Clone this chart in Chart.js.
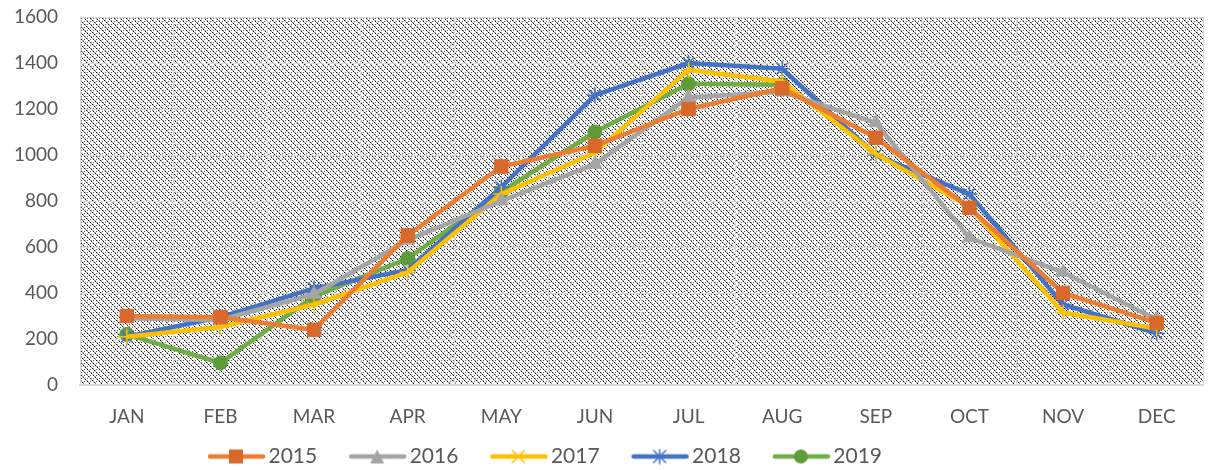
<!DOCTYPE html>
<html>
<head>
<meta charset="utf-8">
<script src="https://cdn.jsdelivr.net/npm/chart.js@4"></script>
<style>
  html, body { margin: 0; padding: 0; background: #fff; }
  #wrap { width: 1214px; height: 470px; }
</style>
</head>
<body>
<div id="wrap"><canvas id="chart" width="1214" height="470"></canvas></div>
<script>
// donnees
const months = ['JAN', 'FEB', 'MAR', 'APR', 'MAY', 'JUN', 'JUL', 'AUG', 'SEP', 'OCT', 'NOV', 'DEC'];
const y2015 = [300, 295, 240, 650, 950, 1040, 1200, 1290, 1075, 770, 400, 270];
const y2016 = [290, 283, 395, 630, 800, 960, 1250, 1275, 1140, 640, 490, 285];
const y2017 = [210, 252, 350, 490, 830, 1010, 1370, 1320, 1005, 775, 315, 245];
const y2018 = [210, 295, 420, 500, 860, 1260, 1400, 1375, 1000, 830, 350, 225];
const y2019 = [220, 96, 385, 550, 840, 1100, 1310, 1305, null, null, null, null];
const yTicks = [0, 200, 400, 600, 800, 1000, 1200, 1400, 1600];

const FONT = 'Lato, Carlito, "Liberation Sans", sans-serif';

// motif hachuré du fond
function makeHatch() {
    const n = 12;
    const c = document.createElement('canvas');
    c.width = n; c.height = n;
    const g = c.getContext('2d');
    const img = g.createImageData(n, n);
    for (let y = 0; y < n; y++) {
        for (let x = 0; x < n; x++) {
            let v = 255;
            const d = ((x - y) % 6 + 6) % 6;
            if (d === 0) v = ((x + y) % 4 === 0) ? 10 : 150;
            else if (d === 1 && y % 2 === 0) v = 185;
            else if (d === 3 && (x + y) % 6 === 3) v = 90;
            const i = (y * n + x) * 4;
            img.data[i] = v; img.data[i + 1] = v; img.data[i + 2] = v; img.data[i + 3] = 255;
        }
    }
    g.putImageData(img, 0, 0);
    return c;
}

const hatchBg = {
    id: 'hatchBg',
    beforeDraw(chart) {
        const a = chart.chartArea;
        const ctx = chart.ctx;
        ctx.save();
        ctx.fillStyle = ctx.createPattern(makeHatch(), 'repeat');
        ctx.fillRect(a.left, a.top, a.right - a.left, a.bottom - a.top);
        ctx.restore();
    }
};

// decale la legende comme dans l'original
const legendShift = {
    id: 'legendShift',
    afterLayout(chart) {
        chart.legend.left -= 75;
        chart.legend.right -= 75;
        chart.legend.top += 7;
        chart.legend.bottom += 7;
    }
};

// icone de legende : trait + marqueur
function legendIcon(lineColor, markerColor, style) {
    const c = document.createElement('canvas');
    c.width = 100; c.height = 16;
    const g = c.getContext('2d');
    g.strokeStyle = lineColor;
    g.lineWidth = 4.5;
    g.lineCap = 'round';
    g.beginPath(); g.moveTo(42, 8); g.lineTo(95, 8); g.stroke();
    g.fillStyle = markerColor;
    g.strokeStyle = markerColor;
    g.lineWidth = 1.5;
    const cx = 68;
    if (style === 'rect') g.fillRect(cx - 7, 1, 14, 14);
    else if (style === 'triangle') {
        g.beginPath(); g.moveTo(cx, 1); g.lineTo(cx + 7, 15); g.lineTo(cx - 7, 15); g.closePath(); g.fill();
    } else if (style === 'cross') {
        g.beginPath(); g.moveTo(cx - 6, 2); g.lineTo(cx + 6, 14); g.moveTo(cx + 6, 2); g.lineTo(cx - 6, 14); g.stroke();
    } else if (style === 'star') {
        g.beginPath(); g.moveTo(cx - 6, 2); g.lineTo(cx + 6, 14); g.moveTo(cx + 6, 2); g.lineTo(cx - 6, 14);
        g.moveTo(cx, 1); g.lineTo(cx, 15); g.stroke();
    } else {
        g.beginPath(); g.arc(cx, 8, 7, 0, Math.PI * 2); g.fill();
    }
    return c;
}

function serie(label, data, lineColor, markerColor, style, radius) {
    return {
        label: label,
        data: data,
        borderColor: lineColor,
        backgroundColor: markerColor,
        pointBackgroundColor: markerColor,
        pointBorderColor: markerColor,
        pointBorderWidth: (style === 'cross' || style === 'star') ? 1.5 : 1,
        pointStyle: style,
        pointRadius: radius,
        borderWidth: 4.5,
        tension: 0,
        spanGaps: false,
        icon: legendIcon(lineColor, markerColor, style)
    };
}

const ctx = document.getElementById('chart');
const chart = new Chart(ctx, {
    type: 'line',
    data: {
        labels: months,
        datasets: [
            serie('2015', y2015, '#ED7D31', '#D9692B', 'rect', 9.5),
            serie('2016', y2016, '#A5A5A5', '#A5A5A5', 'triangle', 8),
            serie('2017', y2017, '#FFC000', '#FFC000', 'cross', 8),
            serie('2018', y2018, '#4472C4', '#4472C4', 'star', 8),
            serie('2019', y2019, '#70AD47', '#5E9C38', 'circle', 7)
        ]
    },
    options: {
        responsive: false,
        animation: false,
        layout: { padding: { left: 0, right: 4, top: 17, bottom: 0 } },
        plugins: {
            tooltip: { enabled: false },
            legend: {
                position: 'bottom',
                labels: {
                    usePointStyle: true,
                    pointStyleWidth: 80,
                    boxHeight: 16,
                    padding: 2,
                    color: '#595959',
                    font: { family: FONT, size: 21 },
                    generateLabels(chart) {
                        return chart.data.datasets.map((ds, i) => ({
                            text: ds.label,
                            pointStyle: ds.icon,
                            fillStyle: ds.borderColor,
                            strokeStyle: ds.borderColor,
                            lineWidth: 0,
                            fontColor: '#595959',
                            datasetIndex: i,
                            hidden: false
                        }));
                    }
                }
            }
        },
        scales: {
            x: {
                offset: true,
                grid: { offset: true, color: '#D9D9D9', lineWidth: 1, drawTicks: false },
                border: { color: '#D9D9D9', width: 2 },
                ticks: {
                    padding: 20,
                    color: '#595959',
                    font: { family: FONT, size: 19 }
                },
                afterFit(scale) {
                    scale.height = 52;
                    scale.paddingLeft = 0;
                    scale.paddingRight = 0;
                }
            },
            y: {
                min: 0,
                max: 1600,
                afterBuildTicks(scale) { scale.ticks = yTicks.map(v => ({ value: v })); },
                grid: { color: '#D9D9D9', lineWidth: 1, drawTicks: false },
                border: { color: '#D9D9D9', width: 1 },
                ticks: {
                    padding: 22,
                    color: '#595959',
                    font: { family: FONT, size: 19 },
                    callback: (v) => String(v)
                },
                afterFit(scale) {
                    scale.width = 80;
                    scale.paddingTop = 0;
                    scale.paddingBottom = 0;
                }
            }
        }
    },
    plugins: [hatchBg, legendShift]
});
</script>
</body>
</html>
